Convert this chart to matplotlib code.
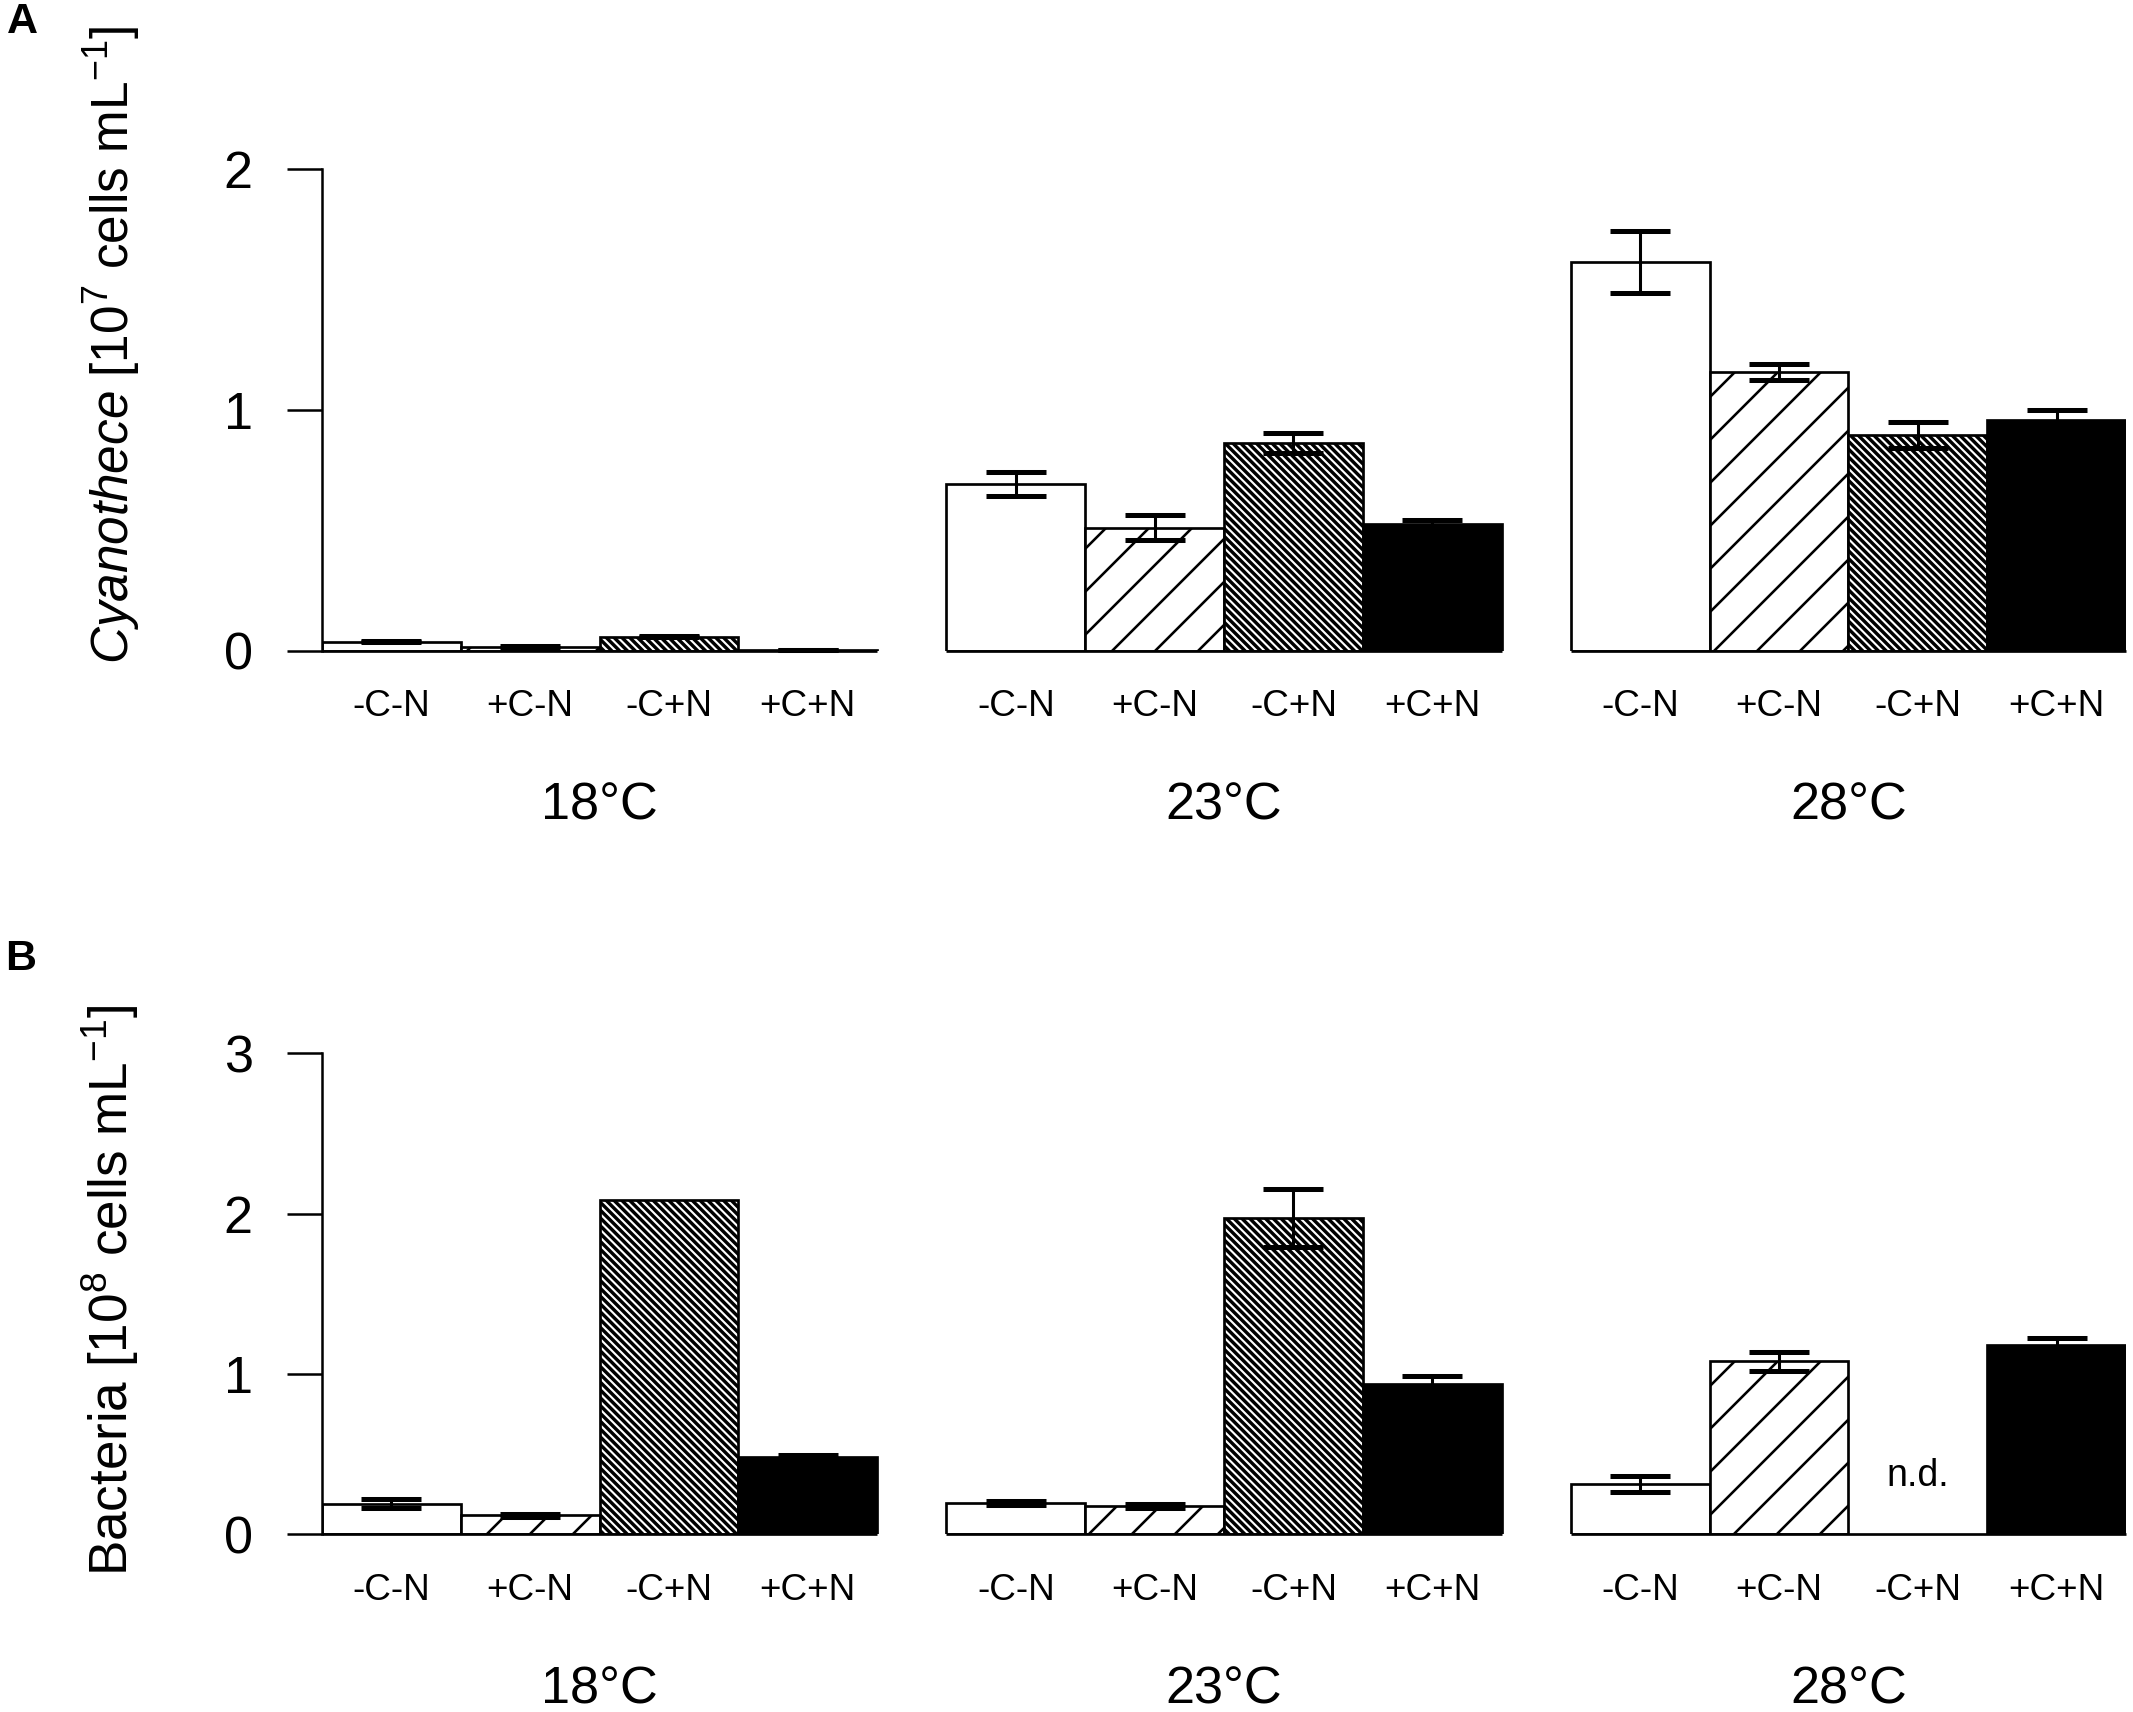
import numpy as np
import matplotlib
matplotlib.use("Agg")
import matplotlib.pyplot as plt

# data (units: 10^7 and 10^8 cells/mL)
temps = ['18°C', '23°C', '28°C']
treatments = ['-C-N', '+C-N', '-C+N', '+C+N']

cyano_mean = [[0.037, 0.015, 0.057, 0.003],
              [0.691, 0.511, 0.861, 0.524],
              [1.614, 1.159, 0.895, 0.956]]
cyano_err = [[0.003, 0.003, 0.002, 0.001],
             [0.050, 0.053, 0.042, 0.019],
             [0.130, 0.033, 0.054, 0.044]]

bact_mean = [[0.188, 0.117, 2.082, 0.479],
             [0.193, 0.175, 1.973, 0.938],
             [0.311, 1.077, np.nan, 1.177]]
bact_err = [[0.028, 0.008, 0.000, 0.015],
            [0.015, 0.012, 0.180, 0.050],
            [0.050, 0.057, np.nan, 0.048]]

DPI = 258
plt.rcParams['font.family'] = ['Liberation Sans', 'DejaVu Sans']
plt.rcParams['mathtext.fontset'] = 'custom'
plt.rcParams['mathtext.rm'] = 'Liberation Sans'
plt.rcParams['mathtext.it'] = 'Liberation Sans:italic'

# per treatment: facecolor, hatch, hatch linewidth
styles = [('white', '', 0.75),
          ('white', '//', 0.72),
          ('white', '\\' * 11, 0.95),
          ('black', '', 0.75)]

GAP = 0.5
W = 2133 / DPI
H = 1712 / DPI


def draw_panel(ax, means, errs, ymax, yticks):
    n = len(treatments)
    for g, temp in enumerate(temps):
        start = g * (n + GAP)
        for i in range(n):
            x = start + i + 0.5
            m = means[g][i]
            fc, hatch, hlw = styles[i]
            ax.annotate(treatments[i], xy=(x, 0), xytext=(0, -15.7),
                        textcoords='offset points', ha='center', va='center',
                        fontsize=10.3, annotation_clip=False)
            if np.isnan(m):
                ax.text(x, 0.36, 'n.d.', ha='center', va='center', fontsize=10.5)
                continue
            plt.rcParams['hatch.linewidth'] = hlw
            bars = ax.bar(x, m, width=1.0, color=fc, edgecolor='black',
                          hatch=hatch, linewidth=0.75, zorder=2)
            for b in bars:
                if hasattr(b, 'set_hatch_linewidth'):
                    b.set_hatch_linewidth(hlw)
            if errs[g][i] > 0:
                ax.errorbar(x, m, yerr=errs[g][i], fmt='none', ecolor='black',
                            elinewidth=0.85, capsize=8.4, capthick=1.4,
                            zorder=3, clip_on=False)
        ax.plot([start, start + n], [0, 0], color='black', lw=0.75,
                solid_capstyle='butt', zorder=4, clip_on=False)
        ax.annotate(temp, xy=(start + n / 2, 0), xytext=(0, -43.5),
                    textcoords='offset points', ha='center', va='center',
                    fontsize=14.6, annotation_clip=False)

    ax.set_xlim(0, len(temps) * (n + GAP) - GAP)
    ax.set_ylim(0, ymax)
    for s in ['top', 'right', 'bottom']:
        ax.spines[s].set_visible(False)
    ax.spines['left'].set_linewidth(0.7)
    ax.spines['left'].set_bounds(0, ymax)
    ax.set_xticks([])
    ax.set_yticks(yticks)
    ax.tick_params(axis='y', length=9.8, width=0.7, pad=9.5, labelsize=14.6)
    ax.set_facecolor('none')


fig = plt.figure(figsize=(W, H), dpi=DPI)

axA = fig.add_axes([322 / 2133, 1 - 650.5 / 1712, 1804 / 2133, 481.2 / 1712])
draw_panel(axA, cyano_mean, cyano_err, 2, [0, 1, 2])

axB = fig.add_axes([322 / 2133, 1 - 1534 / 1712, 1804 / 2133, 480.7 / 1712])
draw_panel(axB, bact_mean, bact_err, 3, [0, 1, 2, 3])

fig.text(112 / 2133, 1 - 345 / 1712,
         r'$\it{Cyanothece}$ [10$^{7}$ cells mL$^{-1}$]',
         rotation=90, ha='center', va='center', fontsize=14.3)
fig.text(110 / 2133, 1 - 1290 / 1712,
         r'Bacteria [10$^{8}$ cells mL$^{-1}$]',
         rotation=90, ha='center', va='center', fontsize=14.8)

fig.text(22 / 2133, 1 - 22 / 1712, 'A', fontsize=12, fontweight='bold',
         ha='center', va='center')
fig.text(21 / 2133, 1 - 959 / 1712, 'B', fontsize=12, fontweight='bold',
         ha='center', va='center')

fig.savefig('out.png', dpi=DPI, facecolor='white')
